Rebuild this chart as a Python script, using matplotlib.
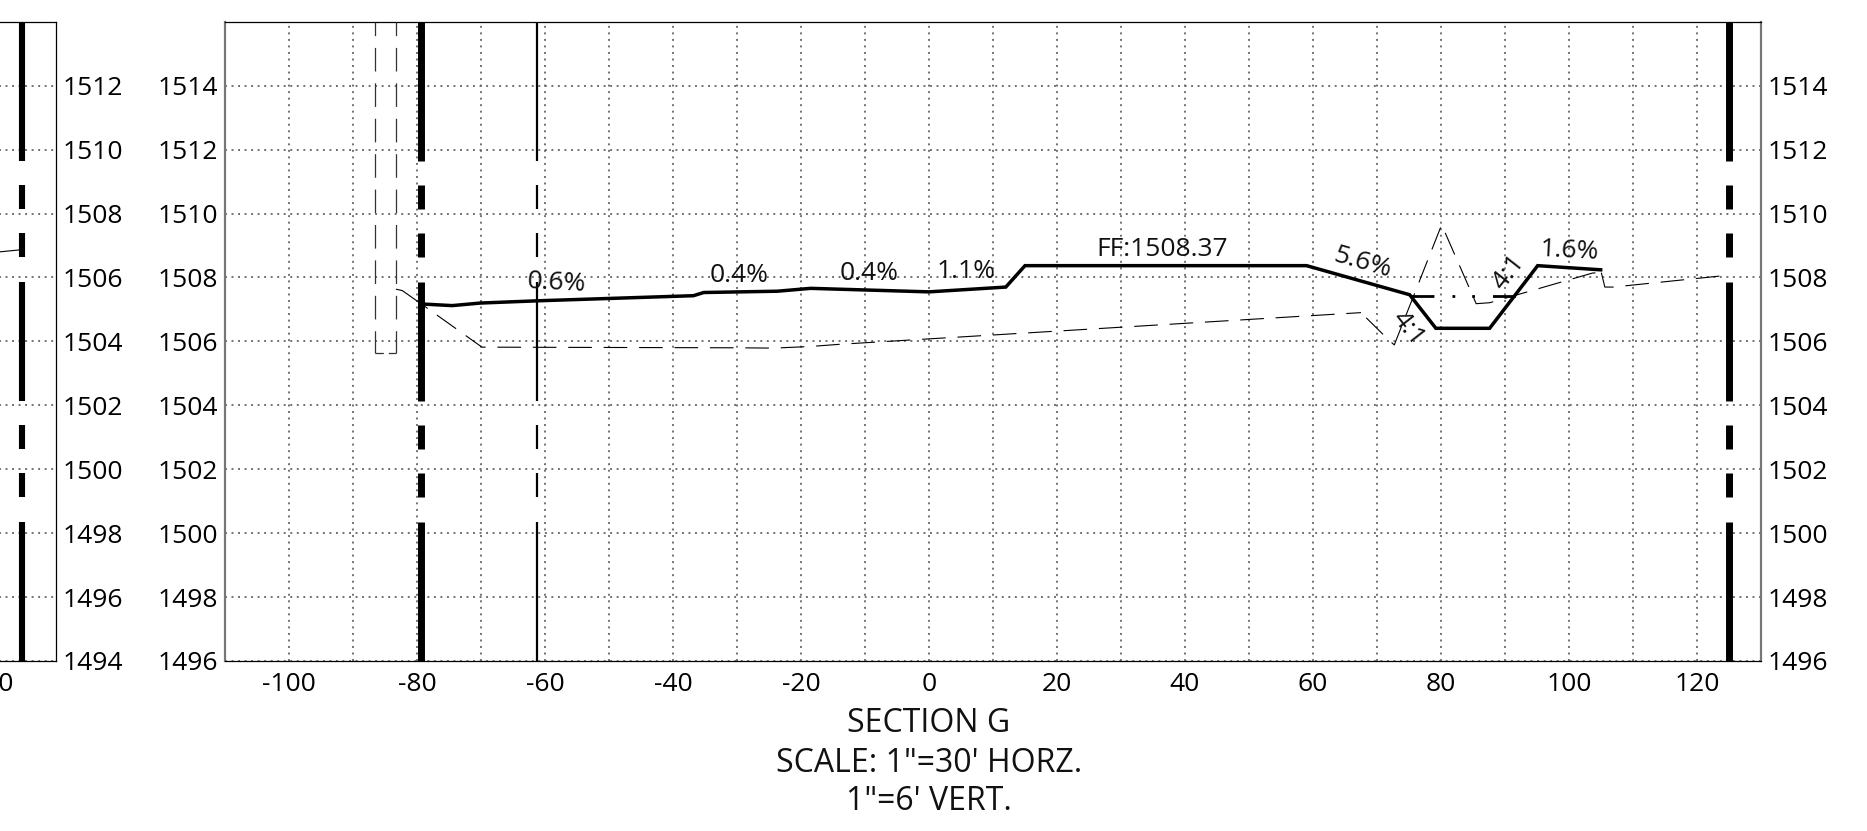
#!/usr/bin/env python3
import matplotlib
matplotlib.use('Agg')
import matplotlib.pyplot as plt

plt.rcParams['font.family'] = ['Open Sans', 'DejaVu Sans']
plt.rcParams['lines.scale_dashes'] = False

W, H = 1867, 831

x_ticks = list(range(-100, 121, 20))
x_grid = list(range(-100, 121, 10))
y_ticks_main = list(range(1496, 1515, 2))
y_ticks_left = list(range(1494, 1513, 2))

# proposed grade
prop_x = [-79.2, -74.5, -70.1, -61.2, -36.8, -35.2, -23.7, -18.5, 0, 12, 15, 59,
          75.1, 79.2, 87.6, 94.8, 95.1, 104.95]
prop_y = [1507.17, 1507.12, 1507.2, 1507.27, 1507.43, 1507.53, 1507.57, 1507.66,
          1507.55, 1507.7, 1508.37, 1508.37, 1507.46, 1506.41, 1506.41, 1508.29,
          1508.37, 1508.24]

# existing grade, split where the dash pattern restarts
exist_a_x = [-83.2, -82.3, -78.4]
exist_a_y = [1507.63, 1507.59, 1507.04]
exist_b_x = [-78.4, -69.85, -30, -24.3, -18.6, -13.9, 67.5]
exist_b_y = [1507.04, 1505.82, 1505.8, 1505.79, 1505.84, 1505.91, 1506.9]
exist_c_x = [67.5, 71.7, 72.7, 80.1, 85.5, 87.6, 103.7, 105.05]
exist_c_y = [1506.9, 1506.07, 1505.89, 1509.65, 1507.18, 1507.21, 1508.14, 1508.15]
exist_d_x = [105.05, 105.6, 106.9, 124.8]
exist_d_y = [1508.15, 1507.7, 1507.7, 1508.07]

# dashed box near -85
box_left = -86.6
box_right = -83.3
box_top = 1516
box_bottom = 1505.64

# water level in the swale
water_x = [75.3, 92]
water_y = [1507.43, 1507.43]

# right of way marks
limit_pieces = [(1516, 1511.65), (1510.88, 1510.15), (1509.4, 1508.65),
                (1507.87, 1504.14), (1503.39, 1502.64), (1501.88, 1501.13),
                (1500.36, 1496)]
limit_thick = [-79.3, 125]
limit_thin = [-61.2]

left_limit_x = 124.75
left_line_x = [121.2, 124.75]
left_line_y = [1506.8, 1506.87]

labels = [('0.6%', -58.2, 1507.81, -3), ('0.4%', -29.6, 1508.07, 0),
          ('0.4%', -9.3, 1508.13, 0), ('1.1%', 5.8, 1508.18, 0),
          ('FF:1508.37', 36.4, 1508.89, 0), ('5.6%', 67.7, 1508.47, -16),
          ('4:1', 74.9, 1506.4, -52), ('4:1', 90.5, 1508.15, 52),
          ('1.6%', 100, 1508.82, -3)]

titles = ['SECTION G', 'SCALE: 1"=30\' HORZ.', '1"=6\' VERT.']
title_y = [724, 763, 801]


def style_axes(ax, ylim, yticks, xlabels):
    ax.set_xlim(-110, 130)
    ax.set_ylim(*ylim)
    ax.set_xticks(x_ticks)
    ax.set_xticks(x_grid, minor=True)
    ax.set_yticks(yticks)
    ax.set_xticklabels(xlabels)
    ax.grid(True, which='both', color='#666666', linewidth=1.3, linestyle=(0, (1.4, 3.3)))
    ax.set_axisbelow(True)
    ax.tick_params(which='both', length=0)
    ax.tick_params(axis='y', labelsize=19, pad=5)
    ax.tick_params(axis='x', labelsize=19, pad=8)


def limit_line(ax, x, lw, shift=0):
    for top, bottom in limit_pieces:
        ax.vlines(x, bottom + shift, top + shift, colors='black', linewidth=lw, capstyle='butt', zorder=3)


fig = plt.figure(figsize=(W / 100, H / 100), dpi=100)
bottom = (H - 661) / H
height = (661 - 21.8) / H

# main section
ax = fig.add_axes([225 / W, bottom, (1761 - 225) / W, height])
style_axes(ax, (1496, 1516), y_ticks_main, [str(t) for t in x_ticks])
ax.tick_params(axis='y', labelleft=True, labelright=True)
for side in ['left', 'right']:
    ax.spines[side].set_color('#777777')
    ax.spines[side].set_linewidth(1.6)
ax.spines['top'].set_linewidth(0.9)
ax.spines['bottom'].set_linewidth(0.9)

for x in limit_thick:
    limit_line(ax, x, 5)
for x in limit_thin:
    limit_line(ax, x, 1.6)

box_dash = (7.2, (17, 8.5))
for x in [box_left, box_right]:
    ax.plot([x, x], [box_top, box_bottom], color='#333333', linewidth=0.9, linestyle=box_dash, zorder=4)
ax.plot([box_left, box_right], [box_bottom, box_bottom], color='#333333', linewidth=0.9,
        linestyle=(0, (6, 3.6)), zorder=4)

ax.plot(exist_a_x, exist_a_y, color='black', linewidth=0.8, zorder=4)
ax.plot(exist_b_x, exist_b_y, color='black', linewidth=0.8, linestyle=(17, (17, 8.5)), zorder=4)
ax.plot(exist_c_x, exist_c_y, color='black', linewidth=0.8, linestyle=(20.2, (17, 8.5)), zorder=4)
ax.plot(exist_d_x, exist_d_y, color='black', linewidth=0.8, linestyle=(0, (17, 8.5)), zorder=4)

ax.plot(prop_x, prop_y, color='black', linewidth=2.5, solid_joinstyle='miter', zorder=5)
ax.plot(water_x, water_y, color='black', linewidth=2.0, zorder=5,
        linestyle=(0, (16.5, 13, 2, 12.2, 2, 13, 16.5, 100)))

for text, x, y, rot in labels:
    ax.text(x, y, text, fontsize=19, rotation=rot, ha='center', va='center',
            rotation_mode='anchor', color='#111111', zorder=6)

# neighbouring section, cut off by the edge of the sheet
left_w = 1761 - 225
ax2 = fig.add_axes([(55.5 - left_w) / W, bottom, left_w / W, height])
style_axes(ax2, (1494, 1514), y_ticks_left, ['120' if t == 120 else '' for t in x_ticks])
ax2.tick_params(axis='y', labelleft=False, labelright=True)
for side in ['top', 'bottom', 'right', 'left']:
    ax2.spines[side].set_linewidth(0.9)
limit_line(ax2, left_limit_x, 4.4, shift=-2)
ax2.plot(left_line_x, left_line_y, color='black', linewidth=0.8, zorder=4)

for text, y in zip(titles, title_y):
    fig.text(929 / W, 1 - y / H, text, fontsize=23, ha='center', va='center', color='#111111')

fig.savefig('out.png', dpi=100)
